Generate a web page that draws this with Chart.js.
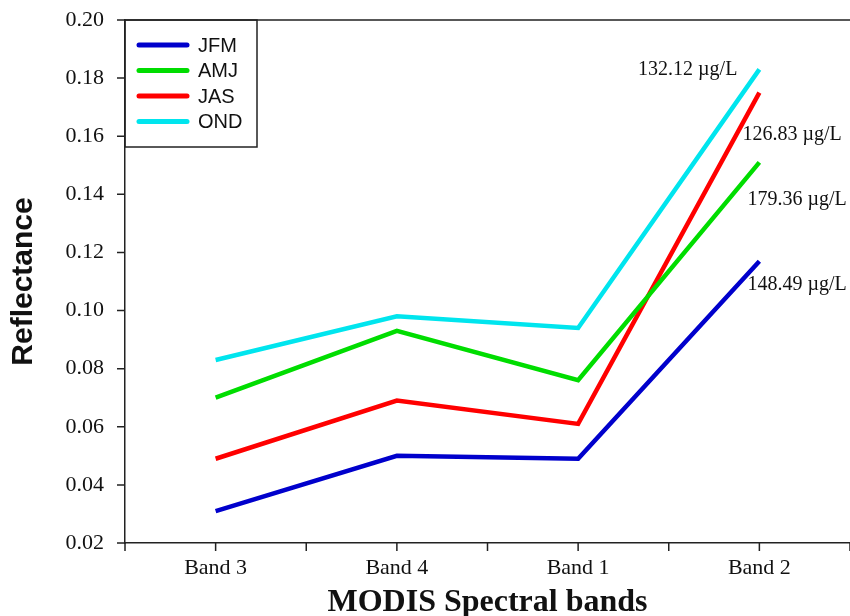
<!DOCTYPE html>
<html>
<head>
<meta charset="utf-8">
<script src="https://cdn.jsdelivr.net/npm/chart.js@4"></script>
<style>
  body { margin: 0; background: #fff; }
  canvas { display: block; }
</style>
</head>
<body>
<canvas id="chart" width="850" height="616"></canvas>
<script>
const bands = ['Band 3', 'Band 4', 'Band 1', 'Band 2'];

const jfm = [0.031, 0.050, 0.049, 0.117];
const amj = [0.070, 0.093, 0.076, 0.151];
const jas = [0.049, 0.069, 0.061, 0.175];
const ond = [0.083, 0.098, 0.094, 0.183];

const seasonNames = ['JFM', 'AMJ', 'JAS', 'OND'];
const seasonColors = ['#0000cc', '#00dd00', '#ff0000', '#00e5ee'];

// concentration labels next to Band 2 (text, reflectance level where the text sits)
const concLabels = ['132.12 \u00b5g/L', '126.83 \u00b5g/L', '179.36 \u00b5g/L', '148.49 \u00b5g/L'];
const concLevels = [0.1828, 0.1604, 0.138, 0.1088];

const axisColor = '#222';
const serif = '"Liberation Serif", "Times New Roman", serif';
const sans = '"Liberation Sans", Arial, sans-serif';

// tick marks on both axes + top frame line
const frameTicksPlugin = {
    id: 'frameTicks',
    afterDraw(chart) {
        const ctx = chart.ctx;
        const xs = chart.scales.x;
        const ys = chart.scales.y;
        const area = chart.chartArea;
        const pos = [area.left, area.right];
        for (let i = 0; i < bands.length; i++) {
            pos.push(xs.getPixelForValue(i));
            if (i < bands.length - 1) {
                pos.push((xs.getPixelForValue(i) + xs.getPixelForValue(i + 1)) / 2);
            }
        }
        ctx.save();
        ctx.strokeStyle = axisColor;
        ctx.lineWidth = 1.5;
        ctx.beginPath();
        pos.forEach(p => {
            ctx.moveTo(p, area.bottom);
            ctx.lineTo(p, area.bottom + 8);
        });
        ys.ticks.forEach(t => {
            const y = ys.getPixelForValue(t.value);
            ctx.moveTo(area.left - 8, y);
            ctx.lineTo(area.left, y);
        });
        ctx.moveTo(area.left, area.top);
        ctx.lineTo(area.right, area.top);
        ctx.stroke();
        ctx.restore();
    }
};

// boxed legend in the top-left corner of the plot
const boxLegendPlugin = {
    id: 'boxLegend',
    afterDraw(chart) {
        const ctx = chart.ctx;
        const area = chart.chartArea;
        const left = area.left;
        const top = area.top;
        ctx.save();
        ctx.strokeStyle = axisColor;
        ctx.lineWidth = 1.5;
        ctx.strokeRect(left, top, 132, 127);
        ctx.font = '20px ' + sans;
        ctx.textBaseline = 'middle';
        chart.data.datasets.forEach((ds, i) => {
            const y = top + 25 + i * 25.5;
            ctx.strokeStyle = ds.borderColor;
            ctx.lineWidth = 5;
            ctx.lineCap = 'round';
            ctx.beginPath();
            ctx.moveTo(left + 14, y);
            ctx.lineTo(left + 62, y);
            ctx.stroke();
            ctx.fillStyle = '#111';
            ctx.fillText(ds.label, left + 73, y + 1);
        });
        ctx.restore();
    }
};

// concentration text near the Band 2 end of each line
const concPlugin = {
    id: 'concText',
    afterDraw(chart) {
        const ctx = chart.ctx;
        const xs = chart.scales.x;
        const ys = chart.scales.y;
        const px = xs.getPixelForValue(bands.length - 1);
        ctx.save();
        ctx.font = '20px ' + serif;
        ctx.fillStyle = '#111';
        ctx.textBaseline = 'middle';
        concLabels.forEach((t, i) => {
            const y = ys.getPixelForValue(concLevels[i]);
            if (i === 0) {
                ctx.textAlign = 'right';
                ctx.fillText(t, px - 22, y);
            } else {
                ctx.textAlign = 'left';
                ctx.fillText(t, px - 17 + (i > 1 ? 5 : 0), y);
            }
        });
        ctx.restore();
    }
};

const seriesData = [jfm, amj, jas, ond];

new Chart(document.getElementById('chart'), {
    type: 'line',
    data: {
        labels: bands,
        datasets: seriesData.map((d, i) => ({
            label: seasonNames[i],
            data: d,
            borderColor: seasonColors[i],
            backgroundColor: seasonColors[i],
            borderWidth: 4.5,
            pointRadius: 0,
            tension: 0,
            fill: false
        }))
    },
    options: {
        responsive: false,
        animation: false,
        layout: { padding: { top: 20, right: 0, left: 0, bottom: 0 } },
        plugins: {
            legend: { display: false },
            tooltip: { enabled: false }
        },
        scales: {
            x: {
                offset: true,
                grid: { display: false, tickLength: 8 },
                border: { display: true, color: axisColor, width: 1.5 },
                ticks: { color: '#111', padding: 4, font: { family: serif, size: 22 } },
                title: {
                    display: true,
                    text: 'MODIS Spectral bands',
                    color: '#111',
                    font: { family: serif, size: 32, weight: 'bold', lineHeight: 0.8 },
                    padding: { top: 0, bottom: 0 }
                },
                afterFit: s => { s.height = 73; }
            },
            y: {
                min: 0.02,
                max: 0.20,
                grid: { display: false, tickLength: 17 },
                border: { display: true, color: axisColor, width: 1.5 },
                ticks: {
                    stepSize: 0.02,
                    color: '#111',
                    padding: 4,
                    font: { family: serif, size: 22 },
                    callback: v => v.toFixed(2)
                },
                title: {
                    display: true,
                    text: 'Reflectance',
                    color: '#111',
                    font: { family: sans, size: 30, weight: 'bold' },
                    padding: { top: 6, bottom: 0 }
                },
                afterFit: s => { s.width = 125; }
            }
        }
    },
    plugins: [frameTicksPlugin, boxLegendPlugin, concPlugin]
});
</script>
</body>
</html>
